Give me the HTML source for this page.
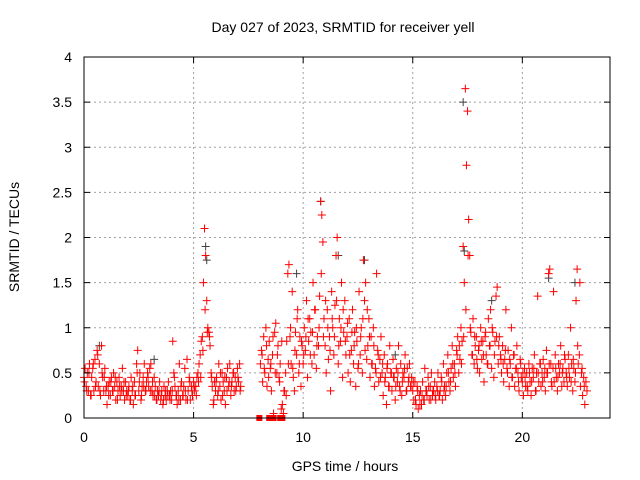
<!DOCTYPE html>
<html><head><meta charset="utf-8"><style>
body{margin:0;background:#fff;}
svg{display:block;font-family:"Liberation Sans",sans-serif;}
</style></head><body>
<svg id="chart" width="640" height="480">
<text x="343" y="32" font-size="14" text-anchor="middle">Day 027 of 2023, SRMTID for receiver yell</text>
<text x="345" y="471" font-size="14" text-anchor="middle">GPS time / hours</text>
<text transform="translate(19,237) rotate(-90)" font-size="14" text-anchor="middle">SRMTID / TECUs</text>
<g id="grid"></g><g id="gray"></g><g id="red"></g><g id="axes"></g>
</svg>
<script>
const xTicks=[0,5,10,15,20];
const yTicks=[0,0.5,1,1.5,2,2.5,3,3.5,4];
const yTickLabels=["0","0.5","1","1.5","2","2.5","3","3.5","4"];
const segAStart=0, segAStep=0.05;
const segAValues=[.45,.55,.35,.5,.3,.6,.25,.45,.55,.3,.65,.4,.75,.35,.6,.25,.8,.45,.3,.55,
.3,.15,.35,.4,.25,.45,.3,.5,.35,.2,.4,.3,.45,.25,.35,.55,.3,.2,.4,.3,
.25,.35,.2,.45,.3,.15,.4,.25,.6,.75,.3,.5,.2,.35,.45,.6,.3,.4,.5,.35,
.55,.6,.3,.25,.45,.35,.2,.3,.25,.4,.2,.3,.15,.35,.25,.2,.3,.4,.25,.3,
.2,.85,.5,.35,.25,.15,.3,.6,.2,.4,.25,.35,.55,.2,.65,.3,.45,.2,.35,.25,
.4,.3,.35,.45,.5,.6,.7,.85,.9,1.5,2.1,1.8,1.3,1.0,.95,.8,.5,.35,.15,.4,
.3,.45,.25,.6,.35,.2,.5,.4,.3,.15,.45,.55,.35,.6,.25,.4,.5,.3,.45,.35,
.55,.4,.6,.35];
const segA2Start=0.025, segA2Step=0.1;
const segA2Values=[.4,.3,.5,.25,.6,.35,.7,.3,.5,.45,
.35,.25,.4,.3,.45,.2,.35,.3,.4,.25,
.3,.2,.35,.25,.5,.4,.25,.35,.3,.45,
.3,.4,.25,.2,.3,.25,.2,.3,.25,.2,
.3,.45,.25,.2,.35,.25,.3,.2,.4,.3,
.35,.25,.4,.45,.75,1.2,.95,.9,.45,.2,
.4,.3,.5,.25,.45,.3,.4,.35,.5,.3,
.45,.3];
const segBStart=8.05, segBStep=0.05;
const segBValues=[.6,.75,.4,.9,.5,1.0,.35,.65,.85,.55,.3,.7,.05,.95,1.05,.5,.8,.45,.6,
.1,.15,.05,.3,.5,.85,1.6,1.7,.9,.6,1.4,.45,.3,.95,.7,1.2,.5,.9,.35,.8,
.6,1.0,.75,1.3,.45,.85,1.1,.95,.6,1.5,.7,1.2,.55,.9,.8,1.35,2.4,2.25,1.95,1.1,
.8,.5,1.2,.65,.9,.3,1.4,1.0,.7,1.25,1.8,2.0,.6,1.1,.85,1.5,.45,.95,1.3,.7,
.9,.5,1.1,.4,.75,1.2,.6,.95,.35,.85,.55,1.4,.7,1.0,.5,1.75,1.3,1.5,.65,.8,
1.1,.45,.9,.6,1.0,.35,.55,1.6,.75,.4,.65,.9,.5,.25,.7,.45,.15,.6,.35,.8,
.5,.3,.65,.45,.2,.55,.4,.8,.35,.6,.25,.5,.45,.7,.3,.55,.4,.6,.35,.45,
.3,.2,.4,.15,.35,.1,.25,.3,.15,.4,.2,.55,.3,.25,.45,.2,.35,.5,.25,.3,
.4,.2,.35,.5,.25,.3,.45,.2,.6,.35,.25,.5,.7,.4,.3,.55,.8,.45,.6,.35,
.75,.9,.5,.65,1.0,.85,1.9,1.5,3.65,2.8,3.4,2.2,1.8,.95,.7,1.1,.6,.8,.9,.55,
.75,.5,1.0,.65,.85,.4,.9,.7,.6,1.1,.8,1.2,.55,.95,.45,.85,1.35,1.45,.6,.9,
.7,.5,.8,.4,.65,1.2,.55,.75,.35,.6,1.0,.45,.7,.35,.55,.8,.5,.3,.65,.45,
.4,.25,.55,.35,.5,.3,.6,.4,.25,.55,.45,.7,.3,.5,1.35,.4,.6,.35,.5,.65,
.45,.3,.75,.5,1.6,1.65,.6,.35,.55,.4,.7,.45,.3,.6,.5,.8,.35,.55,.4,.65,
.5,.35,.7,.45,1.0,.6,.3,.55,.4,1.3,1.65,.6,.7,.35,.5,.25,.45,.15,.4,.3];
const segB2Start=8.125, segB2Step=0.1;
const segB2Values=[.7,.55,.8,.45,.6,.9,.5,.7,.4,.85,
.3,.25,.6,1.0,.55,.75,1.1,.6,.85,.7,
.9,1.1,.7,.95,1.2,.8,1.0,1.6,.9,1.3,
1.0,.75,1.1,.9,1.3,.8,1.0,1.2,.85,1.05,
.7,.95,.8,1.0,.6,.9,1.1,.75,1.2,.9,
.6,.8,.5,.7,.45,.6,.4,.55,.35,.5,
.45,.35,.5,.3,.4,.55,.3,.45,.35,.4,
.2,.3,.15,.25,.2,.3,.35,.2,.3,.25,
.3,.25,.4,.3,.35,.5,.4,.6,.5,.7,
.8,.6,.9,1.2,1.8,1.0,.7,.9,.65,.8,
.85,.7,.95,.6,.8,1.0,.7,.9,.8,.65,
.6,.75,.5,.65,.45,.7,.55,.4,.6,.5,
.45,.35,.5,.4,.55,.3,.5,.6,.4,.55,
.5,.6,.4,1.4,.55,.45,.6,.5,.7,.45,
.55,.4,.65,.5,.8,1.5,.55,.35];
const grayTimes=[5.55,5.6,9.7,10.8,11.6,12.8,17.3,17.35,18.6,21.2,22.4,0.7,3.2,14.2];
const grayValues=[1.9,1.75,1.6,2.4,1.8,1.75,3.5,1.85,1.3,1.55,1.5,.8,.65,.7];
const zeroTimes=[8.0,8.45,8.65,8.95,9.05];

const L=84,R=610,T=57,B=418,X0=0,X1=24,Y0=0,Y1=4;
const xs=v=>L+(v-X0)/(X1-X0)*(R-L);
const ys=v=>B-(v-Y0)/(Y1-Y0)*(B-T);
const NS="http://www.w3.org/2000/svg";
function mk(tag,attrs,parent){const e=document.createElementNS(NS,tag);for(const k in attrs)e.setAttribute(k,attrs[k]);parent.appendChild(e);return e;}
const grid=document.getElementById('grid'),axes=document.getElementById('axes');
xTicks.forEach((t,i)=>{
  const x=xs(t);
  if(t>X0){const g=mk('line',{x1:x,x2:x,y1:T,y2:B,stroke:'#a0a0a0','stroke-dasharray':'2,3'},grid);
  
  }
  mk('line',{x1:x,x2:x,y1:B,y2:B-6,stroke:'#000'},axes);
  mk('line',{x1:x,x2:x,y1:T,y2:T+6,stroke:'#000'},axes);
  const tx=mk('text',{x:x,y:B+24,'font-size':14,'text-anchor':'middle'},axes);
  tx.textContent=String(t);
  
  
});
yTicks.forEach((t,i)=>{
  const y=ys(t);
  if(t>Y0&&t<Y1){const g=mk('line',{x1:L,x2:R,y1:y,y2:y,stroke:'#a0a0a0','stroke-dasharray':'2,3'},grid);
  
  }
  mk('line',{x1:L,x2:L+6,y1:y,y2:y,stroke:'#000'},axes);
  mk('line',{x1:R,x2:R-6,y1:y,y2:y,stroke:'#000'},axes);
  const tx=mk('text',{x:L-12,y:y+5,'font-size':14,'text-anchor':'end'},axes);
  tx.textContent=yTickLabels[i];
  
  
});
const fr=mk('rect',{x:L,y:T,width:R-L,height:B-T,fill:'none',stroke:'#000'},axes);


function cross(g,t,v,color){
  const x=xs(t),y=ys(v);
  const p=mk('path',{d:`M${x-4},${y}H${x+4}M${x},${y-4}V${y+4}`,stroke:color,'stroke-width':1,fill:'none'},g);
  
  
}
const gg=document.getElementById('gray'),rg=document.getElementById('red');
grayTimes.forEach((t,i)=>cross(gg,t,grayValues[i],'#404040'));
segAValues.forEach((v,i)=>cross(rg,segAStart+i*segAStep,v,'#ff0000'));
segA2Values.forEach((v,i)=>cross(rg,segA2Start+i*segA2Step,v,'#ff0000'));
segBValues.forEach((v,i)=>cross(rg,segBStart+i*segBStep,v,'#ff0000'));
segB2Values.forEach((v,i)=>cross(rg,segB2Start+i*segB2Step,v,'#ff0000'));
zeroTimes.forEach(t=>{
  const r=mk('rect',{x:xs(t)-3,y:ys(0)-3,width:6,height:6,fill:'#ff0000'},rg);
  
  
});
</script>
</body></html>
